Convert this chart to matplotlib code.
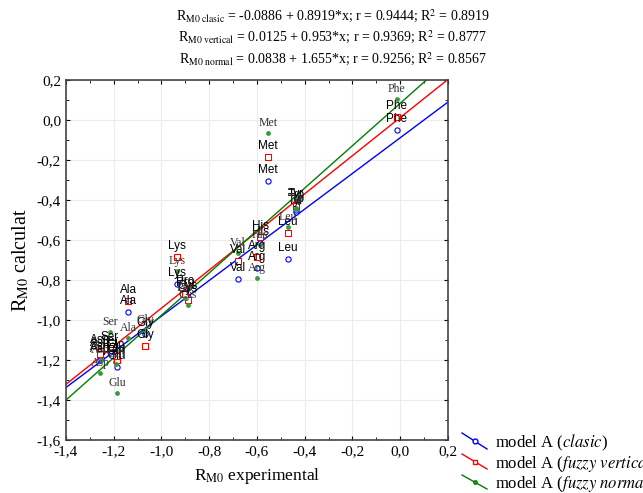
import numpy as np
import matplotlib
matplotlib.use("Agg")
import matplotlib.pyplot as plt
from matplotlib.lines import Line2D
from matplotlib.ticker import MultipleLocator, FuncFormatter

plt.rcParams['font.family'] = ['Liberation Serif', 'DejaVu Serif']
plt.rcParams['mathtext.fontset'] = 'stix'

# aminoacizi si valorile RM0
aminoacizi = ["Phe", "Met", "Tyr", "Trp", "Leu", "His", "Arg", "Val", "Lys",
              "Pro", "Cys", "Ala", "Gly", "Ser", "Asn", "Asp", "Glu", "Gln"]
rm0_exp = [-0.014, -0.554, -0.437, -0.435, -0.47, -0.587, -0.60, -0.68, -0.935,
           -0.90, -0.89, -1.14, -1.069, -1.216, -1.255, -1.258, -1.186, -1.19]
rm0_clasic = [-0.05, -0.305, -0.46, -0.45, -0.695, -0.615, -0.74, -0.795, -0.82,
              -0.86, -0.885, -0.96, -1.07, -1.16, -1.19, -1.20, -1.235, -1.21]
rm0_vertical = [0.015, -0.185, -0.425, -0.43, -0.565, -0.585, -0.685, -0.705, -0.685,
                -0.87, -0.90, -0.905, -1.13, -1.14, -1.155, -1.17, -1.20, -1.18]
rm0_normal = [0.105, -0.065, -0.44, -0.445, -0.535, -0.625, -0.79, -0.665, -0.755,
              -0.89, -0.925, -1.09, -1.05, -1.06, -1.20, -1.265, -1.365, -1.22]

# dreptele de regresie (intercept, panta)
intercepte = [-0.0886, 0.0125, 0.0838]
pante = [0.8919, 0.953, 1.06]

culori = ["blue", "red", "green"]
markere = ["o", "s", "D"]
etichete_legenda = [r"model A ($\mathit{clasic}$)",
                    r"model A ($\mathit{fuzzy\ vertical}$)",
                    r"model A ($\mathit{fuzzy\ normal}$)"]

fig = plt.figure(figsize=(6.43, 4.93), dpi=100)
ax = fig.add_axes([0.1026, 0.1075, 0.5941, 0.7302])

x = np.array(rm0_exp)
serii = [rm0_clasic, rm0_vertical, rm0_normal]
xl = np.array([-1.4, 0.2])
for i, y in enumerate(serii):
    ax.plot(xl, intercepte[i] + pante[i] * xl, color=culori[i], lw=1.0, zorder=2)
for i, y in enumerate(serii):
    if i < 2:
        ax.scatter(x, y, s=14, marker=markere[i], facecolors="white",
                   edgecolors=culori[i], linewidths=0.8, zorder=3)
    else:
        ax.scatter(x, y, s=6, marker="o", color="#3a9a3a", zorder=3)
    for xi, yi, nume in zip(x, y, aminoacizi):
        if i < 2:
            ax.annotate(nume, (xi, yi), xytext=(0, 3.5), textcoords="offset points",
                        ha="center", va="bottom", fontsize=8.5,
                        family="Liberation Sans", color="black", zorder=4)
        else:
            ax.annotate(nume, (xi, yi), xytext=(0, 3), textcoords="offset points",
                        ha="center", va="bottom", fontsize=8.5,
                        color="#333333", zorder=4)

ax.set_xlim(-1.4, 0.2)
ax.set_ylim(-1.6, 0.2)
ax.xaxis.set_major_locator(MultipleLocator(0.2))
ax.yaxis.set_major_locator(MultipleLocator(0.2))
ax.xaxis.set_minor_locator(MultipleLocator(0.1))
ax.yaxis.set_minor_locator(MultipleLocator(0.1))
fmt = FuncFormatter(lambda v, p: f"{v:.1f}".replace(".", ",").replace("-0,0", "0,0"))
ax.xaxis.set_major_formatter(fmt)
ax.yaxis.set_major_formatter(fmt)
ax.tick_params(which="both", direction="in", top=True, right=True, labelsize=11)
ax.tick_params(which="major", length=3)
ax.tick_params(which="minor", length=2)
ax.grid(True, which="major", color="#ececec", lw=0.8, zorder=0)
for s in ax.spines.values():
    s.set_linewidth(1.2)
    s.set_color("#444444")

ax.set_xlabel(r"R$_{\mathrm{M0}}$ experimental", fontsize=12.5, labelpad=6)
ax.set_ylabel(r"R$_{\mathrm{M0}}$ calculat", fontsize=14.5, labelpad=4)

# ecuatiile
fig.text(0.518, 0.969, r"R$_{\mathrm{M0\ clasic}}$ = -0.0886 + 0.8919*x; r = 0.9444; R$^2$ = 0.8919",
         ha="center", va="center", fontsize=10)
fig.text(0.518, 0.925, r"R$_{\mathrm{M0\ vertical}}$ = 0.0125 + 0.953*x; r = 0.9369; R$^2$ = 0.8777",
         ha="center", va="center", fontsize=10)
fig.text(0.518, 0.881, r"R$_{\mathrm{M0\ normal}}$ = 0.0838 + 1.655*x; r = 0.9256; R$^2$ = 0.8567",
         ha="center", va="center", fontsize=10)

# legenda (stil STATISTICA, linii oblice)
for i in range(3):
    y0 = 1 - (433 + 21 * i) / 493
    y1 = 1 - (449 + 20 * i) / 493
    fig.add_artist(Line2D([462 / 643, 487 / 643], [y0, y1], color=culori[i], lw=1.0))
    fig.add_artist(Line2D([474.5 / 643], [(y0 + y1) / 2], marker=markere[i] if i < 2 else "o",
                          markersize=3.5 if i < 2 else 2.5,
                          markerfacecolor="white" if i < 2 else "#3a9a3a",
                          markeredgecolor=culori[i], lw=0))
    fig.text(495 / 643, 1 - (443 + 20 * i) / 493, etichete_legenda[i],
             ha="left", va="center", fontsize=12)

fig.savefig("out.png", dpi=100)
